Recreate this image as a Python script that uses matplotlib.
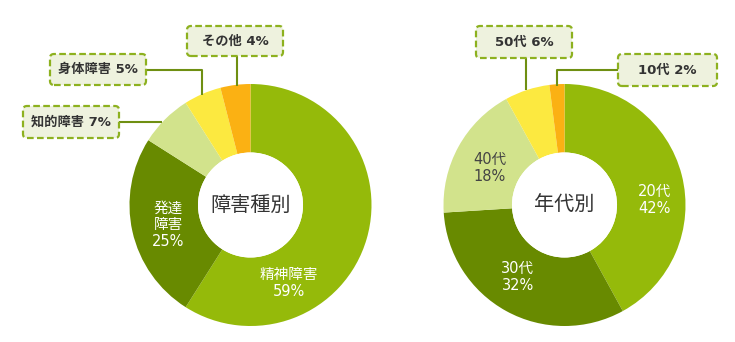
import matplotlib
matplotlib.use("Agg")
import matplotlib.pyplot as plt
from matplotlib.patches import FancyBboxPatch, Circle

plt.rcParams['font.family'] = ['Noto Sans CJK JP', 'DejaVu Sans']
LBL_FONT = ['DejaVu Sans', 'Noto Sans CJK JP']

# ---- data ----
type_labels = ["精神障害", "発達障害", "知的障害", "身体障害", "その他"]
type_values = [59, 25, 7, 5, 4]
age_labels = ["20代", "30代", "40代", "50代", "10代"]
age_values = [42, 32, 18, 6, 2]
colors = ["#95ba0a", "#688a00", "#d2e38c", "#fce940", "#fbb113"]
titles = ["障害種別", "年代別"]

W, H = 735, 342
fig = plt.figure(figsize=(W / 100, H / 100), dpi=100)
ax = fig.add_axes([0, 0, 1, 1])

def Y(y):
    return H - y

R = 121
HOLE = 52.5
centers = [(250.5, 205), (564.5, 205)]

for (cx, cy), vals, title in zip(centers, [type_values, age_values], titles):
    ax.pie(vals, colors=colors, startangle=90, counterclock=False,
           center=(cx, Y(cy)), radius=R,
           wedgeprops=dict(width=R - HOLE, edgecolor="none"))
    ax.add_patch(Circle((cx, Y(cy)), HOLE, facecolor="white", edgecolor="none", zorder=5))
    ax.text(cx, Y(cy), title, ha="center", va="center", fontsize=14.5,
            color="#333333", zorder=6)

ax.set_xlim(0, W)
ax.set_ylim(0, H)
ax.set_aspect("auto")
ax.axis("off")

# inner labels
def inner(x, y, text, color="white"):
    ax.text(x, Y(y), text, ha="center", va="center", fontsize=10.5,
            color=color, linespacing=1.15, zorder=6, family=LBL_FONT)

inner(289, 283, f"{type_labels[0]}\n{type_values[0]}%")
inner(168, 225, f"発達\n障害\n{type_values[1]}%")
inner(655, 200, f"{age_labels[0]}\n{age_values[0]}%")
inner(518, 277, f"{age_labels[1]}\n{age_values[1]}%")
inner(490, 168, f"{age_labels[2]}\n{age_values[2]}%", color="#444444")

line_c = "#6f8f12"

def box(x0, y0, x1, y1, text):
    p = FancyBboxPatch((x0, Y(y1)), x1 - x0, y1 - y0,
                       boxstyle="round,pad=0,rounding_size=4",
                       facecolor="#eef2de", edgecolor="#8db11f",
                       linestyle=(0, (3, 1.5)), linewidth=1.6, zorder=7)
    ax.add_patch(p)
    ax.text((x0 + x1) / 2, Y((y0 + y1) / 2), text, ha="center", va="center",
            fontsize=9.5, fontweight="bold", color="#333333", zorder=8,
            family=LBL_FONT)

def line(xs, ys):
    ax.plot(xs, [Y(v) for v in ys], color=line_c, lw=1.5, zorder=4,
            solid_capstyle="butt")

# left chart callouts
line([237, 237], [56, 86])
box(187, 26, 283, 56, f"{type_labels[4]} {type_values[4]}%")
line([146, 202, 202], [70, 70, 95])
box(50, 54, 146, 85, f"{type_labels[3]} {type_values[3]}%")
line([119, 162], [122, 122])
box(23, 106, 119, 138, f"{type_labels[2]} {type_values[2]}%")

# right chart callouts
line([526, 526], [58, 90])
box(476, 26, 572, 58, f"{age_labels[3]} {age_values[3]}%")
line([618, 557, 557], [70, 70, 86])
box(618, 54, 717, 86, f"{age_labels[4]} {age_values[4]}%")

fig.savefig("out.png", dpi=100)
